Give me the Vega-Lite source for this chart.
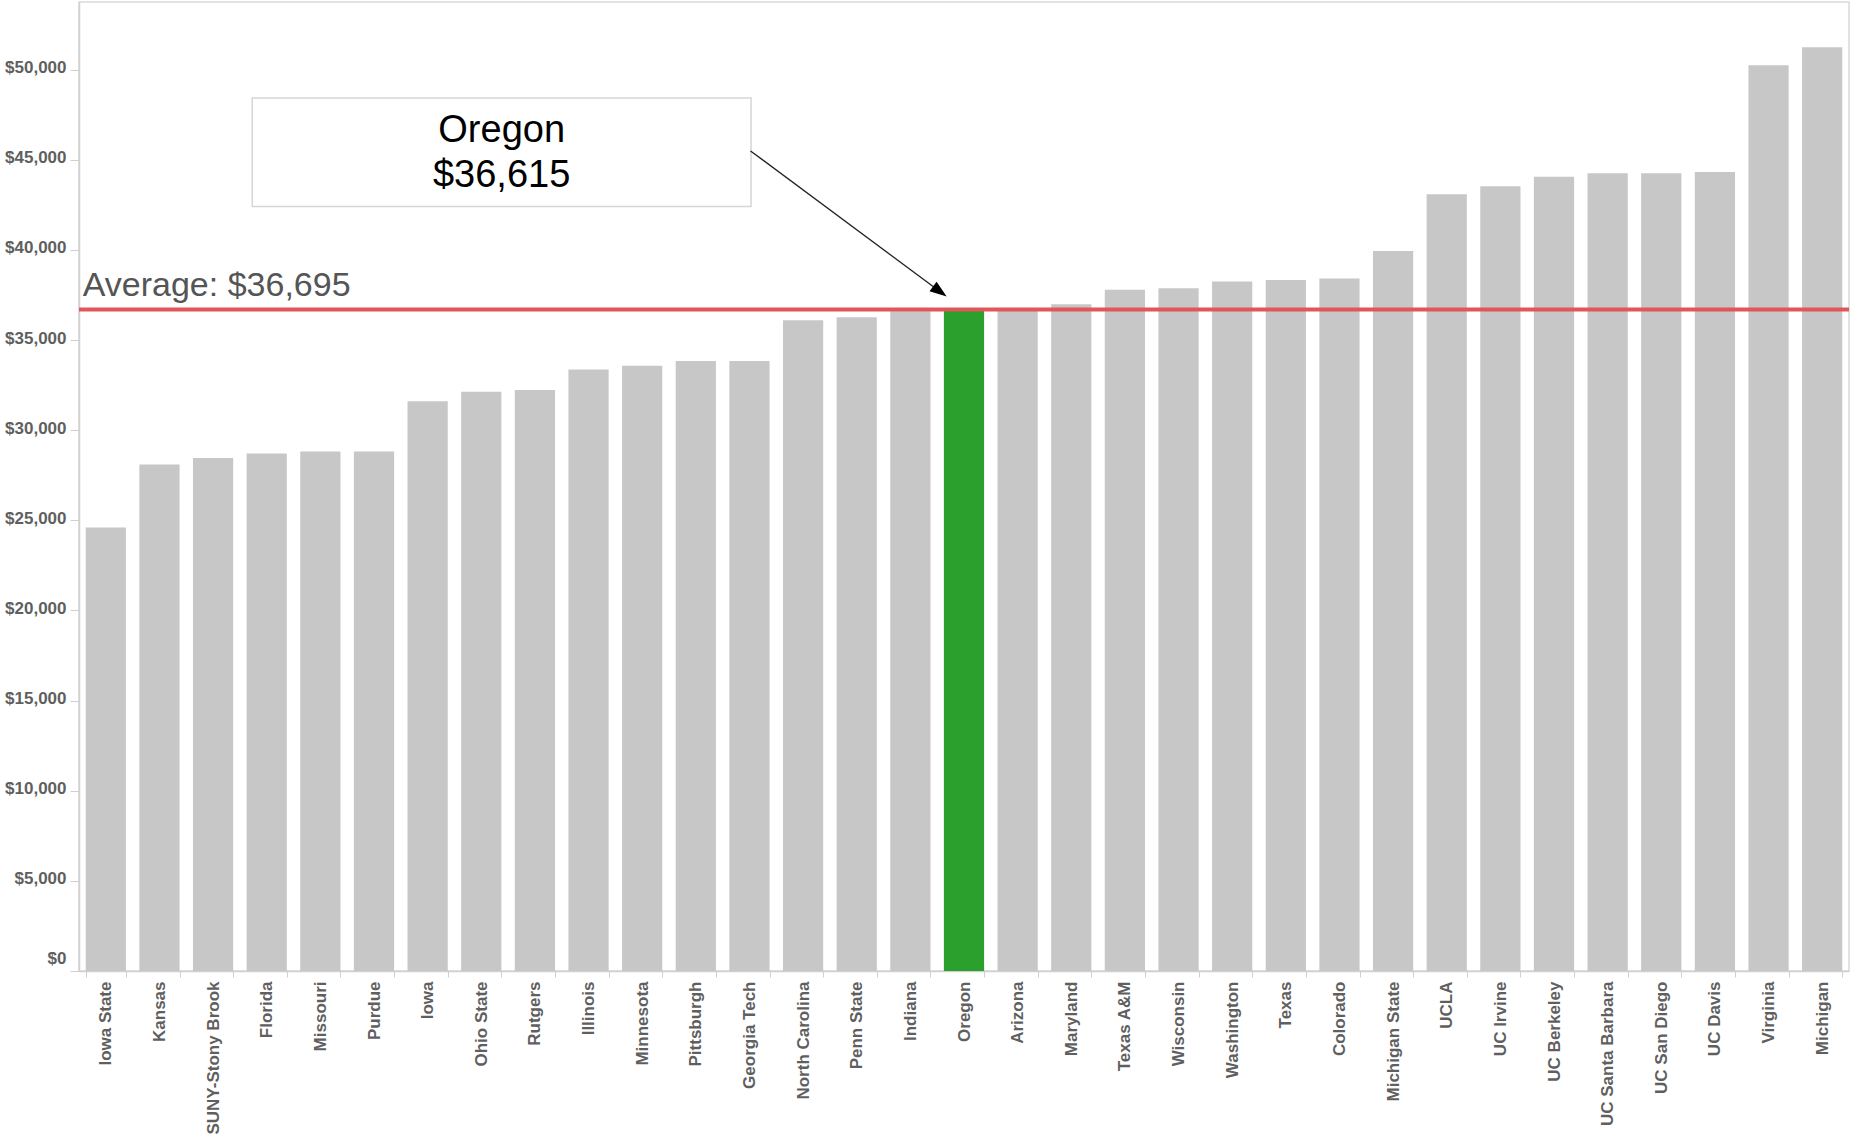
{
  "$schema": "https://vega.github.io/schema/vega-lite/v6.json",
  "autosize": {"type": "none"},
  "width": 1770,
  "height": 969,
  "padding": {"left": 79, "top": 2, "right": 2, "bottom": 168},
  "background": "white",
  "config": {
    "view": {"stroke": "#d9d9d9", "strokeWidth": 1.5},
    "font": "Liberation Sans"
  },
  "datasets": {
    "tuition": [
      {"name": "Iowa State", "cost": 24600},
      {"name": "Kansas", "cost": 28100},
      {"name": "SUNY-Stony Brook", "cost": 28450},
      {"name": "Florida", "cost": 28710},
      {"name": "Missouri", "cost": 28820},
      {"name": "Purdue", "cost": 28820},
      {"name": "Iowa", "cost": 31600},
      {"name": "Ohio State", "cost": 32130},
      {"name": "Rutgers", "cost": 32230},
      {"name": "Illinois", "cost": 33370},
      {"name": "Minnesota", "cost": 33570},
      {"name": "Pittsburgh", "cost": 33830},
      {"name": "Georgia Tech", "cost": 33830},
      {"name": "North Carolina", "cost": 36090},
      {"name": "Penn State", "cost": 36260},
      {"name": "Indiana", "cost": 36600},
      {"name": "Oregon", "cost": 36615},
      {"name": "Arizona", "cost": 36650},
      {"name": "Maryland", "cost": 36990},
      {"name": "Texas A&M", "cost": 37790},
      {"name": "Wisconsin", "cost": 37870},
      {"name": "Washington", "cost": 38240},
      {"name": "Texas", "cost": 38330},
      {"name": "Colorado", "cost": 38410},
      {"name": "Michigan State", "cost": 39940},
      {"name": "UCLA", "cost": 43090},
      {"name": "UC Irvine", "cost": 43530},
      {"name": "UC Berkeley", "cost": 44060},
      {"name": "UC Santa Barbara", "cost": 44250},
      {"name": "UC San Diego", "cost": 44250},
      {"name": "UC Davis", "cost": 44320},
      {"name": "Virginia", "cost": 50240},
      {"name": "Michigan", "cost": 51240}
    ],
    "note": [
      {"name": "Oregon", "cost": 36615, "average": 36695, "avg_label": "Average: $36,695"}
    ]
  },
  "layer": [
    {
      "data": {"name": "tuition"},
      "layer": [
        {
          "mark": {"type": "bar", "color": "#c7c7c7"},
          "encoding": {
            "x": {
              "field": "name",
              "type": "nominal",
              "sort": null,
              "scale": {"paddingInner": 0.25, "paddingOuter": 0.125},
              "axis": {
                "title": null,
                "labelAngle": -90,
                "labelFont": "Liberation Sans",
                "labelFontSize": 17,
                "labelFontWeight": "bold",
                "labelColor": "#5f5f5f",
                "labelPadding": 4,
                "labelLimit": 300,
                "tickBand": "extent",
                "tickColor": "#d0d0d0",
                "tickSize": 6,
                "domainColor": "#d0d0d0",
                "domainWidth": 1.5,
                "grid": false
              }
            },
            "y": {
              "field": "cost",
              "type": "quantitative",
              "scale": {"domain": [0, 53750], "nice": false, "zero": true},
              "axis": {
                "title": null,
                "values": [0, 5000, 10000, 15000, 20000, 25000, 30000, 35000, 40000, 45000, 50000],
                "format": "$,.0f",
                "labelFont": "Liberation Sans",
                "labelFontSize": 17,
                "labelFontWeight": "bold",
                "labelColor": "#5f5f5f",
                "labelPadding": 4,
                "labelOffset": -2,
                "labelFlush": true,
                "labelFlushOffset": -2,
                "tickColor": "#d0d0d0",
                "tickSize": 9,
                "domainColor": "#d0d0d0",
                "domainWidth": 1.5,
                "grid": false
              }
            },
            "color": {
              "condition": {"test": "datum.name === 'Oregon'", "value": "#2ca02c"},
              "value": "#c7c7c7"
            }
          }
        }
      ]
    },
    {
      "data": {"name": "note"},
      "layer": [
        {
          "mark": {"type": "rule", "color": "#e15759", "strokeWidth": 4},
          "encoding": {
            "y": {"field": "average", "type": "quantitative"}
          }
        },
        {
          "mark": {"type": "text", "align": "left", "baseline": "alphabetic", "dy": -13, "fontSize": 34, "color": "#555555", "font": "Liberation Sans"},
          "encoding": {
            "x": {"datum": 0.07, "type": "quantitative", "scale": {"domain": [0, 33], "nice": false, "zero": true}, "axis": null},
            "y": {"field": "average", "type": "quantitative"},
            "text": {"field": "avg_label", "type": "nominal"}
          }
        },
        {
          "mark": {"type": "rect", "fill": "white", "stroke": "#d6d6d6", "strokeWidth": 1.5},
          "encoding": {
            "x": {"datum": 3.23, "type": "quantitative"},
            "x2": {"datum": 12.53},
            "y": {"datum": 48430, "type": "quantitative"},
            "y2": {"datum": 42400}
          }
        },
        {
          "mark": {"type": "text", "align": "center", "baseline": "middle", "fontSize": 38, "color": "#000000", "font": "Liberation Sans"},
          "encoding": {
            "x": {"datum": 7.88, "type": "quantitative"},
            "y": {"datum": 46600, "type": "quantitative"},
            "text": {"field": "name", "type": "nominal"}
          }
        },
        {
          "mark": {"type": "text", "align": "center", "baseline": "middle", "fontSize": 38, "color": "#000000", "font": "Liberation Sans"},
          "encoding": {
            "x": {"datum": 7.88, "type": "quantitative"},
            "y": {"datum": 44100, "type": "quantitative"},
            "text": {"field": "cost", "type": "quantitative", "format": "$,.0f"}
          }
        },
        {
          "mark": {"type": "rule", "color": "#222222", "strokeWidth": 1.3},
          "encoding": {
            "x": {"datum": 12.52, "type": "quantitative"},
            "x2": {"datum": 16.05},
            "y": {"datum": 45490, "type": "quantitative"},
            "y2": {"datum": 37690}
          }
        },
        {
          "mark": {"type": "point", "shape": "M-1,-0.7L1,0L-1,0.7Z", "filled": true, "color": "#000000", "size": 289, "angle": 36.6, "opacity": 1},
          "encoding": {
            "x": {"datum": 16.05, "type": "quantitative"},
            "y": {"datum": 37690, "type": "quantitative"}
          }
        }
      ]
    }
  ],
  "resolve": {"scale": {"x": "independent"}}
}
